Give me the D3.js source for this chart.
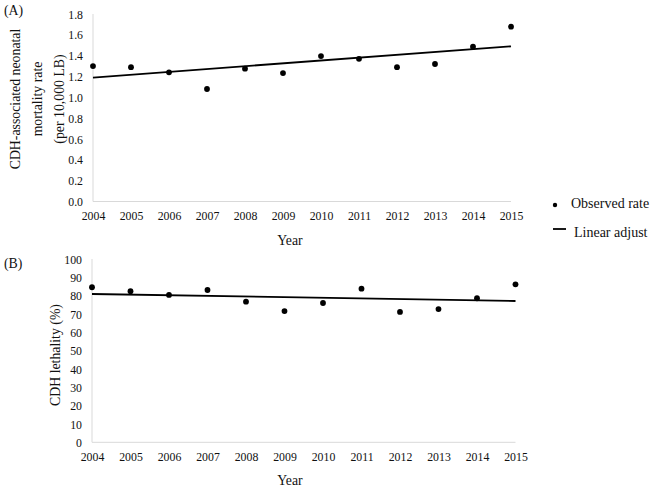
<!DOCTYPE html>
<html>
<head>
<meta charset="utf-8">
<script src="https://cdn.jsdelivr.net/npm/d3@7"></script>
<style>
  html, body { margin: 0; padding: 0; background: #fff; }
  svg { display: block; font-family: "Liberation Serif", "Times New Roman", serif; }
</style>
</head>
<body>
<svg id="chart" width="653" height="488"></svg>
<script>
const years = ["2004","2005","2006","2007","2008","2009","2010","2011","2012","2013","2014","2015"];
const mortalityRate = [1.30, 1.29, 1.24, 1.08, 1.275, 1.233, 1.396, 1.37, 1.29, 1.32, 1.486, 1.678];
const mortalityTrend = [1.19, 1.49];   // fitted values at 2004 and 2015
const lethality = [84.6, 82.4, 80.4, 83.1, 76.7, 71.6, 76.0, 83.8, 71.1, 72.7, 78.6, 86.2];
const lethalityTrend = [80.9, 77.1];  // fitted values at 2004 and 2015
const ticksA = [0, 0.2, 0.4, 0.6, 0.8, 1.0, 1.2, 1.4, 1.6, 1.8];
const ticksB = [0, 10, 20, 30, 40, 50, 60, 70, 80, 90, 100];
const legendLabels = ["Observed rate", "Linear adjust"];

const svg = d3.select("#chart");
const ink = "#111";

function panel(opts) {
  const x = d3.scalePoint().domain(years).range([opts.x0, opts.x1]);
  const y = d3.scaleLinear().domain(opts.domain).range([opts.y0, opts.y1]);
  const g = svg.append("g");

  const xAxis = d3.axisBottom(x).tickSize(0).tickPadding(0);
  const gx = g.append("g").attr("transform", `translate(0,${opts.y0})`).call(xAxis);
  gx.select(".domain").attr("stroke", "#d9d9d9").attr("stroke-width", 1)
    .attr("d", `M${opts.x0},0H${opts.x1}`);
  gx.selectAll("text").attr("font-size", "11.8px").attr("fill", ink)
    .attr("font-family", "Liberation Serif").attr("dy", null).attr("y", 18.5);

  const yAxis = d3.axisLeft(y).tickValues(opts.ticks).tickSize(0).tickPadding(0)
    .tickFormat(opts.fmt);
  const gy = g.append("g").attr("transform", `translate(${opts.x0},0)`).call(yAxis);
  gy.select(".domain").attr("stroke", "#d9d9d9").attr("stroke-width", 1)
    .attr("d", `M0,${opts.y0}V${opts.y1}`);
  gy.selectAll("text").attr("font-size", "11.8px").attr("fill", ink)
    .attr("font-family", "Liberation Serif").attr("x", opts.labelX - opts.x0)
    .attr("dy", "0.35em");

  g.append("line")
    .attr("x1", x(years[0])).attr("y1", y(opts.trend[0]))
    .attr("x2", x(years[years.length - 1])).attr("y2", y(opts.trend[1]))
    .attr("stroke", "#000").attr("stroke-width", 1.8);

  g.selectAll("circle.pt").data(opts.values).enter().append("circle")
    .attr("class", "pt")
    .attr("cx", (d, i) => x(years[i]))
    .attr("cy", d => y(d))
    .attr("r", 2.9)
    .attr("fill", "#000");

  g.append("text").attr("x", opts.xTitleX).attr("y", opts.xTitleY)
    .attr("text-anchor", "middle").attr("font-size", "13.8px").attr("fill", ink)
    .text("Year");

  opts.yTitle.forEach((t, i) => {
    g.append("text")
      .attr("transform", `translate(${opts.yTitleX[i]},${opts.yTitleMid}) rotate(-90)`)
      .attr("text-anchor", "middle").attr("dy", "0.35em")
      .attr("font-size", "13.8px").attr("fill", ink).text(t);
  });

  g.append("text").attr("x", 4).attr("y", opts.labelY)
    .attr("font-size", "13.8px").attr("fill", ink).text(opts.panelLabel);
}

panel({
  x0: 93, x1: 511, y0: 201.5, y1: 14, domain: [0, 1.8],
  ticks: ticksA, fmt: d3.format(".1f"), labelX: 83,
  values: mortalityRate, trend: mortalityTrend,
  xTitleX: 290, xTitleY: 245,
  yTitle: ["CDH-associated neonatal", "mortality rate", "(per 10,000 LB)"],
  yTitleX: [15, 37, 59], yTitleMid: 99,
  panelLabel: "(A)", labelY: 15
});

panel({
  x0: 92, x1: 515.5, y0: 442.3, y1: 259, domain: [0, 100],
  ticks: ticksB, fmt: d3.format("d"), labelX: 82,
  values: lethality, trend: lethalityTrend,
  xTitleX: 290, xTitleY: 485,
  yTitle: ["CDH lethality (%)"],
  yTitleX: [55], yTitleMid: 355,
  panelLabel: "(B)", labelY: 268
});

const lg = svg.append("g");
lg.append("circle").attr("cx", 555).attr("cy", 205).attr("r", 2.2).attr("fill", "#000");
lg.append("text").attr("x", 571).attr("y", 208).attr("font-size", "14px").attr("fill", ink).text(legendLabels[0]);
lg.append("line").attr("x1", 553).attr("x2", 566).attr("y1", 229).attr("y2", 229)
  .attr("stroke", "#000").attr("stroke-width", 1.8);
lg.append("text").attr("x", 574).attr("y", 237).attr("font-size", "14px").attr("fill", ink).text(legendLabels[1]);
</script>
</body>
</html>
